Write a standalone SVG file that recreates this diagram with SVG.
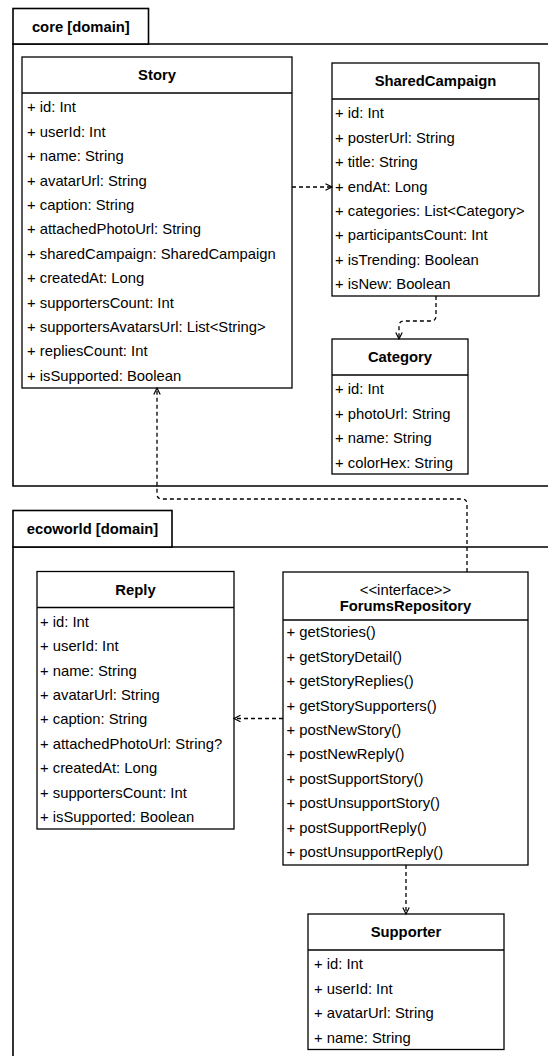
<svg xmlns="http://www.w3.org/2000/svg" width="548" height="1056" viewBox="0 0 548 1056">
  <style>
    text { font-family: "Liberation Sans", Arial, sans-serif; font-size: 14.8px; fill: #000; }
    .title { font-weight: bold; text-anchor: middle; }
    .stereo { text-anchor: middle; }
    .pkg { fill: #fff; stroke: #000; stroke-width: 1.6; }
    .pkgline { fill: none; stroke: #000; stroke-width: 1.6; }
    .box { fill: #fff; stroke: #000; stroke-width: 1.3; }
    .sep { stroke: #000; stroke-width: 1.3; }
    .dep { fill: none; stroke: #000; stroke-width: 1.3; stroke-dasharray: 4 3; marker-end: url(#open); }
  </style>
  <defs>
    <marker id="open" viewBox="0 0 10 10" refX="7" refY="4" markerWidth="10" markerHeight="10" markerUnits="userSpaceOnUse" orient="auto">
      <path d="M0.5,0.8 L7,4 L0.5,7.2" fill="none" stroke="#000" stroke-width="1.2"/>
    </marker>
  </defs>
  <rect width="548" height="1056" fill="#fff"/>

  <!-- package: core [domain] -->
  <g id="pkg-core">
    <path class="pkgline" d="M548,44 H13 V486 H548"/>
    <rect class="pkg" x="13" y="8.5" width="135.5" height="35.5"/>
    <text class="title" x="80.8" y="32">core [domain]</text>
  </g>

  <!-- package: ecoworld [domain] -->
  <g id="pkg-ecoworld">
    <path class="pkgline" d="M548,547 H13 V1056"/>
    <rect class="pkg" x="13" y="510.5" width="159" height="36.5"/>
    <text class="title" x="92.5" y="534">ecoworld [domain]</text>
  </g>

  <!-- class Story -->
  <g id="story">
    <rect class="box" x="22" y="57" width="270" height="331"/>
    <line class="sep" x1="22" y1="93" x2="292" y2="93"/>
    <text class="title" x="157" y="80.3">Story</text>
    <text x="27" y="112.3">+ id: Int</text>
    <text x="27" y="136.7">+ userId: Int</text>
    <text x="27" y="161.1">+ name: String</text>
    <text x="27" y="185.5">+ avatarUrl: String</text>
    <text x="27" y="209.9">+ caption: String</text>
    <text x="27" y="234.3">+ attachedPhotoUrl: String</text>
    <text x="27" y="258.7">+ sharedCampaign: SharedCampaign</text>
    <text x="27" y="283.1">+ createdAt: Long</text>
    <text x="27" y="307.5">+ supportersCount: Int</text>
    <text x="27" y="331.9">+ supportersAvatarsUrl: List&lt;String&gt;</text>
    <text x="27" y="356.3">+ repliesCount: Int</text>
    <text x="27" y="380.7">+ isSupported: Boolean</text>
  </g>

  <!-- class SharedCampaign -->
  <g id="shared-campaign">
    <rect class="box" x="332" y="63" width="207" height="233"/>
    <line class="sep" x1="332" y1="99" x2="539" y2="99"/>
    <text class="title" x="435.5" y="86.3">SharedCampaign</text>
    <text x="335" y="118.3">+ id: Int</text>
    <text x="335" y="142.7">+ posterUrl: String</text>
    <text x="335" y="167.1">+ title: String</text>
    <text x="335" y="191.5">+ endAt: Long</text>
    <text x="335" y="215.9">+ categories: List&lt;Category&gt;</text>
    <text x="335" y="240.3">+ participantsCount: Int</text>
    <text x="335" y="264.7">+ isTrending: Boolean</text>
    <text x="335" y="289.1">+ isNew: Boolean</text>
  </g>

  <!-- class Category -->
  <g id="category">
    <rect class="box" x="332" y="339" width="136" height="135"/>
    <line class="sep" x1="332" y1="375" x2="468" y2="375"/>
    <text class="title" x="400" y="362.3">Category</text>
    <text x="335" y="394.3">+ id: Int</text>
    <text x="335" y="418.7">+ photoUrl: String</text>
    <text x="335" y="443.1">+ name: String</text>
    <text x="335" y="467.5">+ colorHex: String</text>
  </g>

  <!-- class Reply -->
  <g id="reply">
    <rect class="box" x="37" y="571.5" width="197" height="257.5"/>
    <line class="sep" x1="37" y1="607.5" x2="234" y2="607.5"/>
    <text class="title" x="135.5" y="594.8">Reply</text>
    <text x="40" y="626.8">+ id: Int</text>
    <text x="40" y="651.2">+ userId: Int</text>
    <text x="40" y="675.6">+ name: String</text>
    <text x="40" y="700">+ avatarUrl: String</text>
    <text x="40" y="724.4">+ caption: String</text>
    <text x="40" y="748.8">+ attachedPhotoUrl: String?</text>
    <text x="40" y="773.2">+ createdAt: Long</text>
    <text x="40" y="797.6">+ supportersCount: Int</text>
    <text x="40" y="822">+ isSupported: Boolean</text>
  </g>

  <!-- interface ForumsRepository -->
  <g id="forums-repository">
    <rect class="box" x="283" y="572" width="245" height="293"/>
    <line class="sep" x1="283" y1="620" x2="528" y2="620"/>
    <text class="stereo" x="405.5" y="595.3">&lt;&lt;interface&gt;&gt;</text>
    <text class="title" x="405.5" y="610.5">ForumsRepository</text>
    <text x="286.5" y="637.3">+ getStories()</text>
    <text x="286.5" y="661.7">+ getStoryDetail()</text>
    <text x="286.5" y="686.1">+ getStoryReplies()</text>
    <text x="286.5" y="710.5">+ getStorySupporters()</text>
    <text x="286.5" y="734.9">+ postNewStory()</text>
    <text x="286.5" y="759.3">+ postNewReply()</text>
    <text x="286.5" y="783.7">+ postSupportStory()</text>
    <text x="286.5" y="808.1">+ postUnsupportStory()</text>
    <text x="286.5" y="832.5">+ postSupportReply()</text>
    <text x="286.5" y="856.9">+ postUnsupportReply()</text>
  </g>

  <!-- class Supporter -->
  <g id="supporter">
    <rect class="box" x="308" y="914" width="196" height="135.5"/>
    <line class="sep" x1="308" y1="950" x2="504" y2="950"/>
    <text class="title" x="406" y="937.3">Supporter</text>
    <text x="314" y="969.3">+ id: Int</text>
    <text x="314" y="993.7">+ userId: Int</text>
    <text x="314" y="1018.1">+ avatarUrl: String</text>
    <text x="314" y="1042.5">+ name: String</text>
  </g>

  <!-- dependencies -->
  <g id="connectors">
    <path class="dep" d="M292,187 H332"/>
    <path class="dep" d="M436,296 V316 Q436,321 431,321 H404 Q399,321 399,326 V339"/>
    <path class="dep" d="M467,572 V504 Q467,499 462,499 H162 Q157,499 157,494 V388"/>
    <path class="dep" d="M283,718.5 H234"/>
    <path class="dep" d="M406,865 V914"/>
  </g>
</svg>
